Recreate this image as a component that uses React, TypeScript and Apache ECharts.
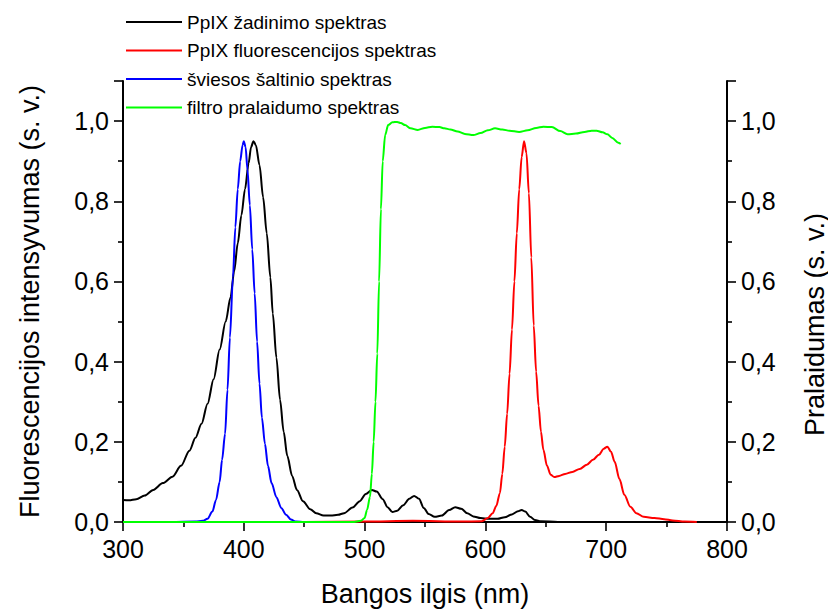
import React, { useEffect, useRef } from "react";
import * as echarts from "echarts";

// Wavelength (nm) / intensity pairs
const excitationPpIX: [number, number][] = [
  [300, 0.055], [305, 0.054], [311, 0.057], [318, 0.066], [325, 0.08], [333, 0.097],
  [341, 0.113], [348, 0.14], [355, 0.178], [360, 0.21], [365, 0.245], [370, 0.295],
  [375, 0.356], [380, 0.43], [385, 0.5], [389, 0.56], [392, 0.625], [395, 0.695],
  [398, 0.765], [401, 0.83], [404, 0.895], [406, 0.935], [408, 0.95], [410, 0.94],
  [413, 0.89], [416, 0.81], [419, 0.72], [422, 0.61], [424, 0.52], [427, 0.41],
  [430, 0.305], [433, 0.225], [436, 0.165], [440, 0.115], [444, 0.08], [449, 0.052],
  [455, 0.032], [460, 0.022], [466, 0.016], [472, 0.016], [478, 0.018], [483, 0.022],
  [490, 0.036], [496, 0.052], [501, 0.07], [506, 0.08], [510, 0.076], [515, 0.057],
  [519, 0.037], [523, 0.025], [527, 0.028], [532, 0.042], [537, 0.058], [541, 0.065],
  [545, 0.058], [549, 0.035], [553, 0.02], [558, 0.013], [564, 0.016], [570, 0.03],
  [575, 0.037], [580, 0.033], [585, 0.022], [590, 0.014], [596, 0.01], [603, 0.008],
  [610, 0.008], [616, 0.012], [622, 0.019], [627, 0.027], [630, 0.03], [633, 0.026],
  [637, 0.013], [641, 0.005], [646, 0.002], [660, 0], [700, 0],
];

const fluorescencePpIX: [number, number][] = [
  [400, 0], [450, 0], [500, 0.001], [540, 0.003], [580, 0.001], [597, 0.002],
  [602, 0.01], [606, 0.022], [609, 0.04], [612, 0.072], [614, 0.12], [616, 0.188],
  [618, 0.27], [620, 0.37], [622, 0.48], [624, 0.6], [626, 0.72], [628, 0.83],
  [630, 0.91], [632, 0.95], [634, 0.92], [636, 0.82], [638, 0.66], [640, 0.49],
  [642, 0.375], [644, 0.29], [646, 0.225], [648, 0.18], [651, 0.14], [654, 0.118],
  [657, 0.112], [661, 0.115], [666, 0.12], [672, 0.125], [678, 0.132], [684, 0.143],
  [689, 0.155], [694, 0.168], [698, 0.183], [701, 0.188], [704, 0.175], [707, 0.15],
  [711, 0.107], [715, 0.068], [720, 0.038], [725, 0.022], [731, 0.013], [740, 0.01],
  [748, 0.007], [755, 0.004], [765, 0.001], [775, 0],
];

const lightSource: [number, number][] = [
  [300, 0], [340, 0], [360, 0.001], [366, 0.003], [370, 0.008], [374, 0.026],
  [377, 0.055], [380, 0.1], [382, 0.155], [384.5, 0.22], [386.5, 0.33], [388.5, 0.46],
  [391, 0.61], [393, 0.735], [395, 0.83], [397, 0.9], [399, 0.94], [400, 0.95],
  [401.5, 0.935], [403, 0.88], [405, 0.79], [407, 0.68], [409, 0.57], [411, 0.45],
  [413, 0.345], [415, 0.26], [417.5, 0.195], [420, 0.14], [423, 0.097], [427, 0.062],
  [431, 0.035], [435, 0.018], [439, 0.006], [443, 0.001], [450, 0], [460, 0],
];

const filterTransmission: [number, number][] = [
  [300, 0], [490, 0], [497, 0.003], [500, 0.01], [502, 0.03], [504.5, 0.063],
  [506, 0.12], [507.5, 0.2], [509, 0.3], [510.5, 0.42], [512, 0.6], [513.5, 0.78],
  [515, 0.9], [517, 0.965], [519.5, 0.99], [523, 0.997], [527, 0.998], [530, 0.995],
  [533.5, 0.99], [538, 0.982], [544, 0.978], [550, 0.983], [556, 0.986], [562, 0.985],
  [566, 0.982], [571, 0.979], [577, 0.974], [583, 0.968], [590, 0.965], [596, 0.97],
  [602, 0.977], [608, 0.982], [614, 0.979], [620, 0.976], [628, 0.973], [635, 0.977],
  [642, 0.983], [648, 0.986], [655, 0.985], [662, 0.975], [668, 0.967], [675, 0.969],
  [682, 0.973], [688, 0.976], [692, 0.976], [697, 0.972], [701, 0.967], [705, 0.958],
  [710, 0.946], [712, 0.943],
];

const seriesNames = [
  "PpIX žadinimo spektras",
  "PpIX fluorescencijos spektras",
  "šviesos šaltinio spektras",
  "filtro pralaidumo spektras",
];
const seriesColors = ["#000000", "#ff0000", "#0000ff", "#00ff00"];

const xTitle = "Bangos ilgis (nm)";
const yLeftTitle = "Fluorescencijos intensyvumas (s. v.)";
const yRightTitle = "Pralaidumas (s. v.)";

const FONT = "'Liberation Sans', Arial, sans-serif";

const fmtY = (v: number) => {
  if (Math.abs(v * 5 - Math.round(v * 5)) > 1e-6) return "";
  return v.toFixed(1).replace(".", ",");
};

export default function App() {
  const ref = useRef<HTMLDivElement>(null);
  useEffect(() => {
    document.body.style.margin = "0";
    if (!ref.current) return;
    const chart = echarts.init(ref.current, undefined, { renderer: "svg" });
    const axisLine = { show: true, lineStyle: { color: "#000", width: 2 } };
    const axisTick = { show: true, inside: false, length: 9, lineStyle: { color: "#000", width: 1.6 } };
    const minorTick = { show: true, splitNumber: 2, length: 5, lineStyle: { color: "#000", width: 1.6 } };
    const yAxisCommon = {
      type: "value" as const,
      min: 0,
      max: 1.1,
      interval: 0.2,
      axisLine,
      axisTick,
      minorTick,
      splitLine: { show: false },
      axisLabel: { color: "#000", fontSize: 25, fontFamily: FONT, margin: 14, formatter: fmtY },
      nameLocation: "middle" as const,
    };
    const datasets = [excitationPpIX, fluorescencePpIX, lightSource, filterTransmission];
    chart.setOption({
      animation: false,
      backgroundColor: "#ffffff",
      grid: { left: 123, right: 101, top: 81, bottom: 90, containLabel: false, outerBoundsMode: "none" },
      legend: {
        orient: "vertical",
        left: 121,
        top: 7,
        icon: "rect",
        itemWidth: 56,
        itemHeight: 2,
        itemGap: 8.5,
        textStyle: { color: "#000", fontSize: 19, fontFamily: FONT, lineHeight: 20 },
        data: seriesNames.map((n, i) => ({ name: n, itemStyle: { color: seriesColors[i] } })),
      },
      xAxis: {
        type: "value",
        min: 300,
        max: 800,
        interval: 100,
        axisLine,
        axisTick,
        minorTick,
        splitLine: { show: false },
        axisLabel: { color: "#000", fontSize: 25, fontFamily: FONT, margin: 14 },
        name: xTitle,
        nameLocation: "middle",
        nameGap: 58,
        nameTextStyle: { color: "#000", fontSize: 27, fontFamily: FONT },
      },
      yAxis: [
        {
          ...yAxisCommon,
          position: "left",
          name: yLeftTitle,
          nameGap: 80,
          nameTextStyle: { color: "#000", fontSize: 27, fontFamily: FONT },
        },
        {
          ...yAxisCommon,
          position: "right",
          name: yRightTitle,
          nameGap: 74,
          nameTextStyle: { color: "#000", fontSize: 27, fontFamily: FONT, padding: [0, 46, 0, 0] },
        },
      ],
      series: datasets.map((d, i) => ({
        name: seriesNames[i],
        type: "line",
        yAxisIndex: i === 3 ? 1 : 0,
        data: d,
        showSymbol: false,
        symbol: "none",
        smooth: 0.3,
        smoothMonotone: "x",
        lineStyle: { color: seriesColors[i], width: 2 },
        itemStyle: { color: seriesColors[i] },
      })),
    });
    return () => chart.dispose();
  }, []);
  return <div ref={ref} style={{ width: 828, height: 612 }} />;
}
